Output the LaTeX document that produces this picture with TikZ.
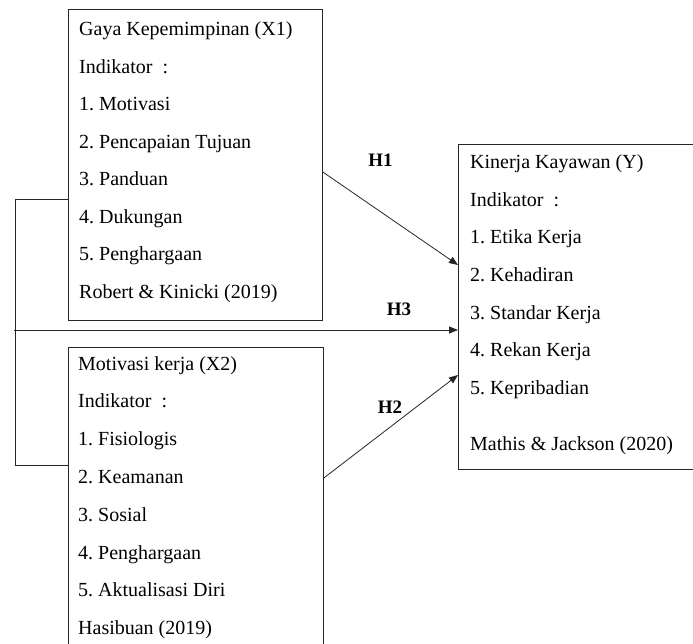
\documentclass[tikz,border=0pt]{standalone}
\usepackage{fontspec}
\setmainfont{Liberation Serif}
\usepackage{tikz}
\usetikzlibrary{arrows.meta,positioning,calc}
\frenchspacing

\begin{document}
\begin{tikzpicture}[x=1pt,y=-1pt,
  box/.style={draw=black!85,line width=0.8pt,inner sep=0pt,anchor=north west},
  item/.style={anchor=base west,inner sep=0pt,font=\fontsize{20}{24}\selectfont},
  hyp/.style={anchor=base,inner sep=0pt,font=\fontsize{19}{23}\selectfont\bfseries},
  arr/.style={draw=black!85,line width=0.8pt,-{Triangle[length=9pt,width=7pt]}},
  link/.style={draw=black!85,line width=0.8pt}]
\useasboundingbox (0,0) rectangle (693,644);
\clip (0,0) rectangle (693,644);

% Boxes
\node[box,minimum width=254pt,minimum height=311pt] (x1) at (68,9) {};
\node[box,minimum width=255pt,minimum height=305pt] (x2) at (68,347) {};
\node[box,minimum width=245pt,minimum height=325pt] (ky) at (458,144) {};

% Box texts
\foreach \t [count=\i from 0] in {Gaya Kepemimpinan (X1),Indikator\ \ :,1. Motivasi,
  2. Pencapaian Tujuan,3. Panduan,4. Dukungan,5. Penghargaan,Robert \& Kinicki (2019)}
  \node[item] (xa-\i) at (79,{36+37.5*\i}) {\t};
\foreach \t [count=\i from 0] in {Motivasi kerja (X2),Indikator\ \ :,1. Fisiologis,
  2. Keamanan,3. Sosial,4. Penghargaan,5. Aktualisasi Diri,Hasibuan (2019)}
  \node[item] (xb-\i) at (78,{370+37.8*\i}) {\t};
\foreach \t [count=\i from 0] in {Kinerja Kayawan (Y),Indikator\ \ :,1. Etika Kerja,
  2. Kehadiran,3. Standar Kerja,4. Rekan Kerja,5. Kepribadian}
  \node[item] (ya-\i) at (470,{169+37.5*\i}) {\t};
\node[item] (ya-7) at (470,450) {Mathis \& Jackson (2020)};

% Bracket joining X1 and X2
\coordinate (bt) at (15,199);
\coordinate (bb) at (15,465);
\coordinate (h3s) at (14,330);
\draw[link] (x1.west |- bt) -- (bt) -- (bb) -- (x2.west |- bb);

% Hypotheses
\draw[arr] ([yshift=-163pt]x1.north east) -- ([yshift=-121pt]ky.north west);
\draw[arr] (h3s) -- (ky.west |- h3s);
\draw[arr] ([yshift=-131pt]x2.north east) -- ([yshift=-231pt]ky.north west);
\node[hyp] (h1) at (380.5,167) {H1};
\node[hyp] (h3) at (399,315) {H3};
\node[hyp] (h2) at (390,413) {H2};
\end{tikzpicture}
\end{document}
